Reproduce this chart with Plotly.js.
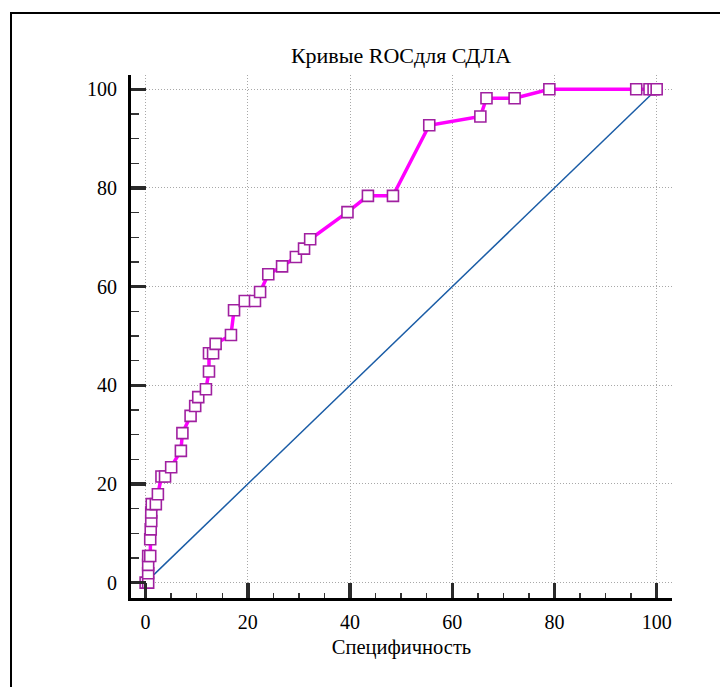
<!DOCTYPE html>
<html>
<head>
<meta charset="utf-8">
<script src="https://cdn.plot.ly/plotly-3.0.1.min.js"></script>
<style>html,body{margin:0;padding:0;background:#fff;}#chart{width:720px;height:687px;}</style>
</head>
<body>
<div id="chart"></div>
<script>
const chartTitle = "Кривые ROCдля СДЛА";
const xAxisTitle = "Специфичность";
const specificity = [0, 0.5, 0.5, 0.5, 0.5, 0.9, 0.9, 1.0, 1.1, 1.1, 1.2, 2.0, 2.4, 3.1, 3.8, 5.0, 6.9, 7.2, 8.8, 9.7, 10.3, 11.8, 12.4, 12.4, 13.2, 13.7, 16.7, 17.3, 19.4, 21.4, 22.4, 24.0, 26.7, 29.4, 31.0, 32.2, 39.5, 43.5, 48.4, 55.5, 65.5, 66.7, 72.2, 79.0, 96.0, 98.6, 99.4, 100];
const sensitivity = [0, 0, 1.9, 3.6, 5.4, 5.4, 8.8, 10.8, 12.5, 14.2, 15.9, 15.9, 17.9, 21.5, 21.5, 23.4, 26.7, 30.3, 33.8, 35.8, 37.6, 39.2, 42.8, 46.5, 46.5, 48.4, 50.2, 55.2, 57.1, 57.1, 58.9, 62.5, 64.1, 66.0, 67.7, 69.6, 75.1, 78.4, 78.4, 92.7, 94.5, 98.2, 98.2, 100, 100, 100, 100, 100];
const diagX = [0, 100];
const diagY = [0, 100];
const tickVals = [0, 20, 40, 60, 80, 100];
const tickText = ["0", "20", "40", "60", "80", "100"];

const FAMILY = "'Liberation Serif', 'Times New Roman', Times, serif";

const traces = [
  {x: diagX, y: diagY, type: "scatter", mode: "lines",
   line: {color: "#1a5ca6", width: 1.5}, hoverinfo: "skip"},
  {x: specificity, y: sensitivity, type: "scatter", mode: "lines+markers",
   line: {color: "#ff00ff", width: 3.5},
   marker: {symbol: "square", size: 11, color: "#ffffff", line: {color: "#a020a0", width: 1.6}}}
];

const axisCommon = {
  showline: true, linewidth: 3, linecolor: "#000", zeroline: false,
  showgrid: true, gridcolor: "#a8a8a8", gridwidth: 1, griddash: "1px,2px",
  ticks: "inside", ticklen: 15, tickwidth: 3.5, tickcolor: "#2a2a2a",
  tickmode: "array", tickvals: tickVals, ticktext: tickText,
  tickfont: {family: FAMILY, size: 20, color: "#000"},
  fixedrange: true
};

const layout = {
  width: 720, height: 687,
  margin: {l: 131, r: 48, t: 75, b: 89},
  paper_bgcolor: "#fff", plot_bgcolor: "#fff",
  showlegend: false,
  font: {family: FAMILY, color: "#000"},
  title: {text: chartTitle, font: {family: FAMILY, size: 22, color: "#000"}, x: 0.557, xanchor: "center", y: 0.92, yanchor: "middle"},
  xaxis: Object.assign({}, axisCommon, {
    range: [-2.86, 103.0],
    minor: {tickmode: "linear", dtick: 5, tick0: 0, ticks: "inside", ticklen: 5, tickwidth: 1.5, tickcolor: "#333333", showgrid: false},
    title: {text: xAxisTitle, font: {family: FAMILY, size: 20.5, color: "#000"}, standoff: 8},
    ticklabelstandoff: 4
  }),
  yaxis: Object.assign({}, axisCommon, {
    range: [-3.12, 102.9],
    minor: {tickmode: "linear", dtick: 5, tick0: 0, ticks: "inside", ticklen: 8, tickwidth: 1.5, tickcolor: "#333333", showgrid: false},
    ticklabelstandoff: 7
  }),
  shapes: [
    {type: "rect", xref: "paper", yref: "paper", x0: -0.2218, x1: 1.1, y0: -0.2, y1: 1.1186,
     line: {color: "#000", width: 2}, fillcolor: "rgba(0,0,0,0)", layer: "above"}
  ]
};

Plotly.newPlot("chart", traces, layout, {displayModeBar: false, staticPlot: true});
</script>
</body>
</html>
